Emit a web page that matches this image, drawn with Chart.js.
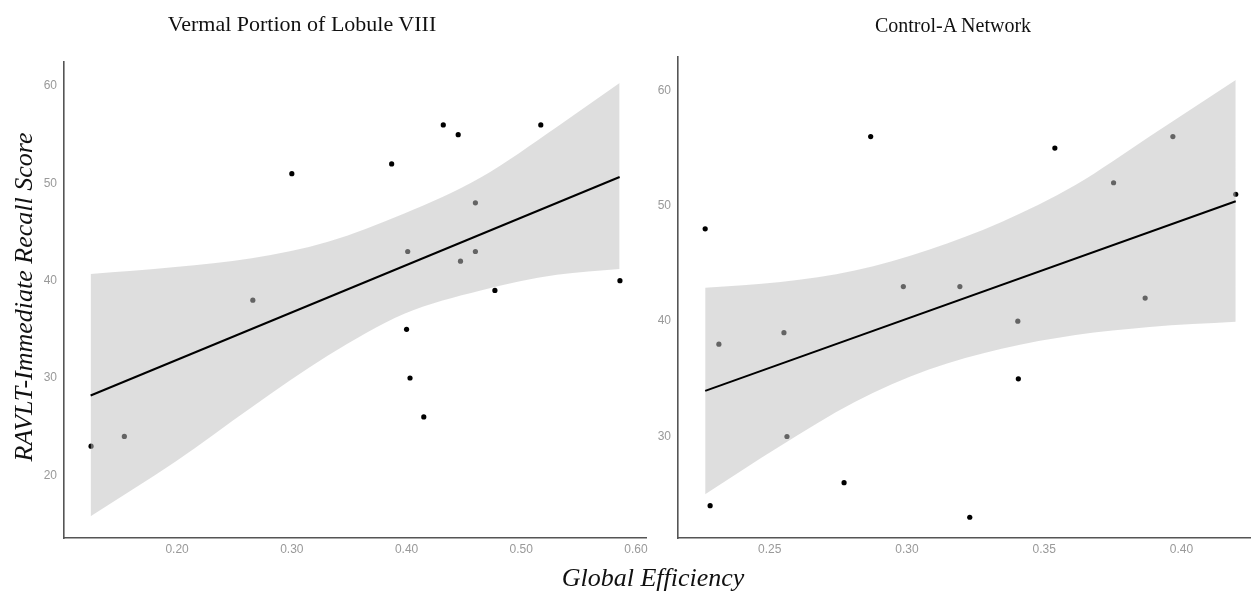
<!DOCTYPE html>
<html>
<head>
<meta charset="utf-8">
<script src="https://cdn.jsdelivr.net/npm/chart.js@4/dist/chart.umd.min.js"></script>
<style>
  html, body { margin: 0; padding: 0; background: #fff; }
  #wrap { position: relative; width: 1254px; height: 592px; overflow: hidden; }
  canvas { position: absolute; top: 0; }
  .ttl { position: absolute; font-family: "Liberation Serif", "Times New Roman", serif; color: #111; white-space: nowrap; }
  .panel { font-size: 20px; line-height: 24px; width: 500px; text-align: center; top: 13px; }
  .axis { font-size: 26px; line-height: 30px; font-style: italic; width: 500px; text-align: center; }
</style>
</head>
<body>
<div id="wrap">
  <canvas id="leftChart" width="655" height="592" style="left:0"></canvas>
  <canvas id="rightChart" width="599" height="592" style="left:655px"></canvas>
  <div class="ttl panel" style="left:52px;font-size:22px;top:12px">Vermal Portion of Lobule VIII</div>
  <div class="ttl panel" style="left:703px">Control-A Network</div>
  <div class="ttl axis" style="left:-226px;top:282px;transform:rotate(-90deg)">RAVLT-Immediate Recall Score</div>
  <div class="ttl axis" style="left:403px;top:563px">Global Efficiency</div>
</div>
<script>
  // recall scores (same subjects in both panels)
  const leftX  = [0.125, 0.154, 0.266, 0.300, 0.387, 0.432, 0.445, 0.517, 0.460, 0.401, 0.460, 0.447, 0.477, 0.586, 0.400, 0.403, 0.415];
  const leftY  = [23, 24, 38, 51, 52, 56, 55, 56, 48, 43, 43, 42, 39, 40, 35, 30, 26];
  const rightX = [0.2265, 0.2868, 0.2987, 0.2552, 0.2315, 0.2563, 0.2771, 0.2283, 0.3193, 0.3539, 0.3753, 0.3969, 0.4198, 0.3404, 0.3868, 0.3406, 0.3229];
  const rightY = [48, 56, 43, 39, 38, 30, 26, 24, 43, 55, 52, 56, 51, 40, 42, 35, 23];

  // fitted line ends
  const leftFitX  = [0.1246, 0.5857];
  const leftFitY  = [28.2, 50.65];
  const rightFitX = [0.2265, 0.4198];
  const rightFitY = [33.95, 50.4];

  // confidence band
  const leftBandX     = [0.1246, 0.1984, 0.265, 0.3315, 0.398, 0.4646, 0.531, 0.5857];
  const leftBandUpper = [40.69, 41.4, 42.3, 44.0, 46.9, 50.6, 55.8, 60.3];
  const leftBandLower = [15.8, 21.4, 27.0, 32.3, 36.6, 39.0, 40.6, 41.2];
  const rightBandX     = [0.2265, 0.254, 0.281, 0.308, 0.3345, 0.3614, 0.3884, 0.4198];
  const rightBandUpper = [42.9, 43.4, 44.4, 46.2, 48.6, 51.8, 56.0, 60.9];
  const rightBandLower = [25.0, 29.2, 33.0, 35.8, 37.6, 38.8, 39.5, 39.95];

  const leftXTicks  = [0.20, 0.30, 0.40, 0.50, 0.60];
  const leftYTicks  = [20, 30, 40, 50, 60];
  const rightXTicks = [0.25, 0.30, 0.35, 0.40];
  const rightYTicks = [30, 40, 50, 60];

  const zip = (xs, ys) => xs.map((x, i) => ({ x, y: ys[i] }));

  function makeChart(id, cfg) {
    const tickFont = { family: "'Liberation Sans', Arial, sans-serif", size: 12 };
    const axisBorder = { display: true, color: '#555', width: 1.6 };
    new Chart(document.getElementById(id), {
      type: 'scatter',
      data: {
        datasets: [
          { data: zip(cfg.px, cfg.py), backgroundColor: '#000', borderWidth: 0, pointRadius: 2.6, order: 10 },
          { type: 'line', data: zip(cfg.bx, cfg.bu), borderWidth: 0, pointRadius: 0,
            fill: '+1', backgroundColor: 'rgba(192,192,192,0.52)', cubicInterpolationMode: 'monotone', order: 5 },
          { type: 'line', data: zip(cfg.bx, cfg.bl), borderWidth: 0, pointRadius: 0,
            fill: false, cubicInterpolationMode: 'monotone', order: 6 },
          { type: 'line', data: zip(cfg.fx, cfg.fy), borderColor: '#000', borderWidth: 2, pointRadius: 0,
            fill: false, order: 1 }
        ]
      },
      options: {
        responsive: false,
        animation: false,
        layout: { padding: cfg.pad },
        plugins: { legend: { display: false }, tooltip: { enabled: false } },
        scales: {
          x: {
            type: 'linear', min: cfg.xmin, max: cfg.xmax,
            grid: { display: false, drawTicks: false },
            border: axisBorder,
            ticks: { color: '#999', font: tickFont, padding: 4, maxRotation: 0,
                     callback: v => v.toFixed(2) },
            afterBuildTicks: s => { s.ticks = cfg.xt.map(v => ({ value: v })); },
            afterFit: s => { s.height = 30; }
          },
          y: {
            type: 'linear', min: cfg.ymin, max: cfg.ymax,
            grid: { display: false, drawTicks: false },
            border: axisBorder,
            ticks: { color: '#999', font: tickFont, padding: 7,
                     callback: v => String(v) },
            afterBuildTicks: s => { s.ticks = cfg.yt.map(v => ({ value: v })); },
            afterFit: s => { s.width = cfg.yw; }
          }
        }
      }
    });
  }

  makeChart('leftChart', {
    px: leftX, py: leftY, fx: leftFitX, fy: leftFitY,
    bx: leftBandX, bu: leftBandUpper, bl: leftBandLower,
    xt: leftXTicks, yt: leftYTicks,
    xmin: 0.1014, xmax: 0.6087, ymin: 13.56, ymax: 62.47,
    yw: 30, pad: { left: 34, right: 9, top: 62, bottom: 24 }
  });

  makeChart('rightChart', {
    px: rightX, py: rightY, fx: rightFitX, fy: rightFitY,
    bx: rightBandX, bu: rightBandUpper, bl: rightBandLower,
    xt: rightXTicks, yt: rightYTicks,
    xmin: 0.2166, xmax: 0.425, ymin: 21.2, ymax: 62.9,
    yw: 23, pad: { left: 0, right: 0, top: 57, bottom: 24 }
  });
</script>
</body>
</html>
